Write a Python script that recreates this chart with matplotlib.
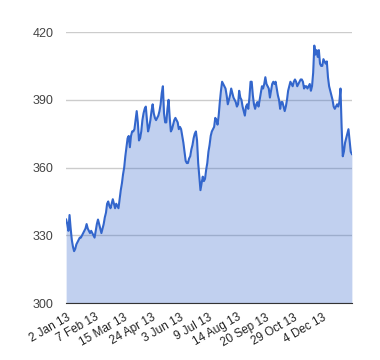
import matplotlib
matplotlib.use("Agg")
import matplotlib.pyplot as plt
import numpy as np

plt.rcParams['font.family'] = ['Liberation Sans', 'DejaVu Sans']

# daily closing values, 2013 trading days
values = [
    337, 335, 332, 339, 333, 328, 325, 323, 324, 326, 327, 328, 329, 329, 330, 331, 332, 333, 335, 333, 332,
    331, 332, 331, 330, 329, 332, 335, 337, 335, 333, 331, 333, 335, 338, 340, 344, 345, 343, 342, 344,
    346, 344, 342, 344, 343, 342, 346, 350, 353, 357, 360, 365, 369, 373, 374, 369, 374, 376, 376, 377,
    381, 385, 380, 372, 373, 376, 381, 384, 386, 387, 381, 376, 378, 381, 385, 388, 384, 382, 381, 382,
    383, 385, 388, 393, 396, 384, 380, 380, 386, 390, 382, 376, 377, 379, 381, 382, 381, 380, 377, 378,
    377, 374, 371, 367, 363, 362, 362, 364, 365, 368, 370, 373, 375, 376, 372, 362, 356, 350, 353, 356,
    354, 355, 359, 362, 367, 370, 374, 376, 377, 378, 382, 381, 379, 383, 389, 394, 398, 397, 396, 395,
    392, 388, 390, 392, 395, 393, 391, 390, 389, 387, 388, 394, 391, 390, 387, 385, 383, 387, 388, 386,
    391, 398, 398, 392, 388, 386, 388, 389, 387, 390, 393, 396, 395, 397, 400, 397, 396, 395, 391, 394,
    397, 398, 397, 398, 395, 392, 390, 386, 389, 389, 387, 385, 387, 390, 394, 396, 398, 397, 396, 398,
    399, 398, 396, 397, 398, 399, 399, 398, 395, 396, 396, 395, 396, 397, 394, 396, 402, 414, 410, 412,
    409, 412, 406, 405, 405, 408, 407, 406, 407, 400, 396, 394, 392, 390, 387, 386, 387, 388, 387, 389,
    395, 378, 365, 367, 371, 373, 375, 377, 372, 367, 366,
]
tick_idx = [0, 25, 50, 75, 100, 125, 150, 175, 200, 225]
tick_labels = ["2 Jan 13", "7 Feb 13", "15 Mar 13", "24 Apr 13", "3 Jun 13",
               "9 Jul 13", "14 Aug 13", "20 Sep 13", "29 Oct 13", "4 Dec 13"]
y_ticks = [300, 330, 360, 390, 420]

x = np.arange(len(values))

fig = plt.figure(figsize=(3.8, 3.6), dpi=100)
ax = fig.add_axes([0.174, 0.158, 0.752, 0.753])

ax.fill_between(x, 300, values, color="#3366cc", alpha=0.3, linewidth=0, zorder=2)
ax.plot(x, values, color="#3366cc", linewidth=1.5, zorder=3)

ax.set_xlim(0, len(values) - 1)
ax.set_ylim(300, 420)
ax.set_yticks(y_ticks)
ax.set_xticks(tick_idx)
ax.set_xticklabels(tick_labels, rotation=30, ha="right", va="top", rotation_mode="anchor")

ax.grid(axis="y", color="#cccccc", linewidth=1, zorder=1)
ax.set_axisbelow(True)
for s in ["top", "right", "left"]:
    ax.spines[s].set_visible(False)
ax.spines["bottom"].set_color("#333333")
ax.tick_params(axis="both", length=0)
ax.tick_params(axis="y", pad=9, labelsize=9, labelcolor="#444444")
ax.tick_params(axis="x", pad=6, labelsize=8.5, labelcolor="#222222")

fig.savefig("out.png", dpi=100)
